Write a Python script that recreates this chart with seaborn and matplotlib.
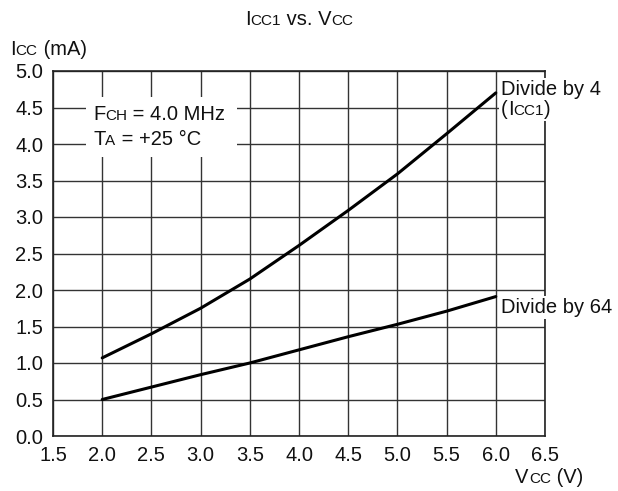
import numpy as np
import pandas as pd
import matplotlib
matplotlib.use('Agg')
import matplotlib.pyplot as plt
import matplotlib.patches as mpatches
import matplotlib.transforms as mtransforms
import seaborn as sns

# ── data ──────────────────────────────────────────────────────────────────────
vcc       = [2.0, 2.5, 3.0, 3.5, 4.0, 4.5, 5.0, 5.5, 6.0]
icc_div4  = [1.07, 1.40, 1.75, 2.15, 2.61, 3.09, 3.59, 4.14, 4.70]
icc_div64 = [0.50, 0.67, 0.84, 1.00, 1.18, 1.36, 1.53, 1.71, 1.91]
curve_names = ['Divide by 4', 'Divide by 64']
x_ticks = [1.5, 2.0, 2.5, 3.0, 3.5, 4.0, 4.5, 5.0, 5.5, 6.0, 6.5]
y_ticks = [0.0, 0.5, 1.0, 1.5, 2.0, 2.5, 3.0, 3.5, 4.0, 4.5, 5.0]

df = pd.DataFrame({
    'Vcc': vcc * 2,
    'Icc': icc_div4 + icc_div64,
    'curve': [curve_names[0]] * len(vcc) + [curve_names[1]] * len(vcc),
})

sns.set_style('white')
plt.rcParams['font.family'] = ['Liberation Sans', 'DejaVu Sans']

FS = 14.5          # main font size
SMALL = 0.76       # size ratio of the small-caps parts
W, H = 618, 491

fig = plt.figure(figsize=(W / 100, H / 100), dpi=100)
ax = fig.add_axes([53 / W, 1 - 436 / H, 492 / W, 365 / H])

sns.lineplot(data=df, x='Vcc', y='Icc', hue='curve',
             palette=['black', 'black'], linewidth=2.2,
             legend=False, ax=ax, zorder=3)

ax.set_xlim(x_ticks[0], x_ticks[-1])
ax.set_ylim(y_ticks[0], y_ticks[-1])
ax.set_xticks(x_ticks)
ax.set_yticks(y_ticks)
ax.set_xticklabels([f'{v:.1f}' for v in x_ticks])
ax.set_yticklabels([f'{v:.1f}' for v in y_ticks])
ax.set_xlabel('')
ax.set_ylabel('')
ax.tick_params(length=0, pad=7, labelsize=FS, colors='#111111')
ax.set_axisbelow(True)
ax.grid(True, color='#333333', linewidth=1.0)
for sp in ax.spines.values():
    sp.set_visible(True)
    sp.set_color('#222222')
    sp.set_linewidth(1.2)

# white box behind the condition text (data coords)
ax.add_patch(mpatches.Rectangle((1.84, 3.82), 1.53, 0.82, facecolor='white',
                                edgecolor='none', zorder=1))

# ── rich text helper: pieces of (string, small?) on one baseline ─────────────
renderer = fig.canvas.get_renderer()


def rich(x_px, y_px, parts, ha='left'):
    texts = []
    for s, small in parts:
        t = fig.text(0, (H - y_px) / 100, s, transform=fig.dpi_scale_trans,
                     fontsize=FS * SMALL if small else FS, va='baseline',
                     ha='left', color='#111111', zorder=5)
        texts.append(t)
    widths = [t.get_window_extent(renderer).width for t in texts]
    total = sum(widths)
    x = x_px - {'left': 0, 'center': total / 2, 'right': total}[ha]
    for t, w in zip(texts, widths):
        t.set_x(x / 100)
        x += w
    return mtransforms.Bbox.union([t.get_window_extent(renderer) for t in texts])


rich(299, 25, [('I', False), ('CC1', True), (' vs. V', False), ('CC', True)],
     ha='center')
rich(10, 55, [('I', False), ('CC', True), (' (mA)', False)])
rich(583, 483, [('V', False), ('CC', True), (' (V)', False)], ha='right')

rich(93, 120, [('F', False), ('CH', True), (' = 4.0 MHz', False)])
rich(93, 145, [('T', False), ('A', True), (' = +25 \u00b0C', False)])

# curve labels with white background (they cut the right spine)
b1 = rich(501, 95, [('Divide by 4', False)])
b2 = rich(501, 115, [('(', False), ('I', False), ('CC1', True), (')', False)])
b3 = rich(501, 313, [('Divide by 64', False)])
for box in [mtransforms.Bbox.union([b1, b2]), b3]:
    fig.add_artist(mpatches.Rectangle(
        (box.x0 - 2, box.y0 - 2), box.width + 4, box.height + 4,
        transform=mtransforms.IdentityTransform(),
        facecolor='white', edgecolor='none', zorder=4))

fig.savefig('out.png', dpi=100)
